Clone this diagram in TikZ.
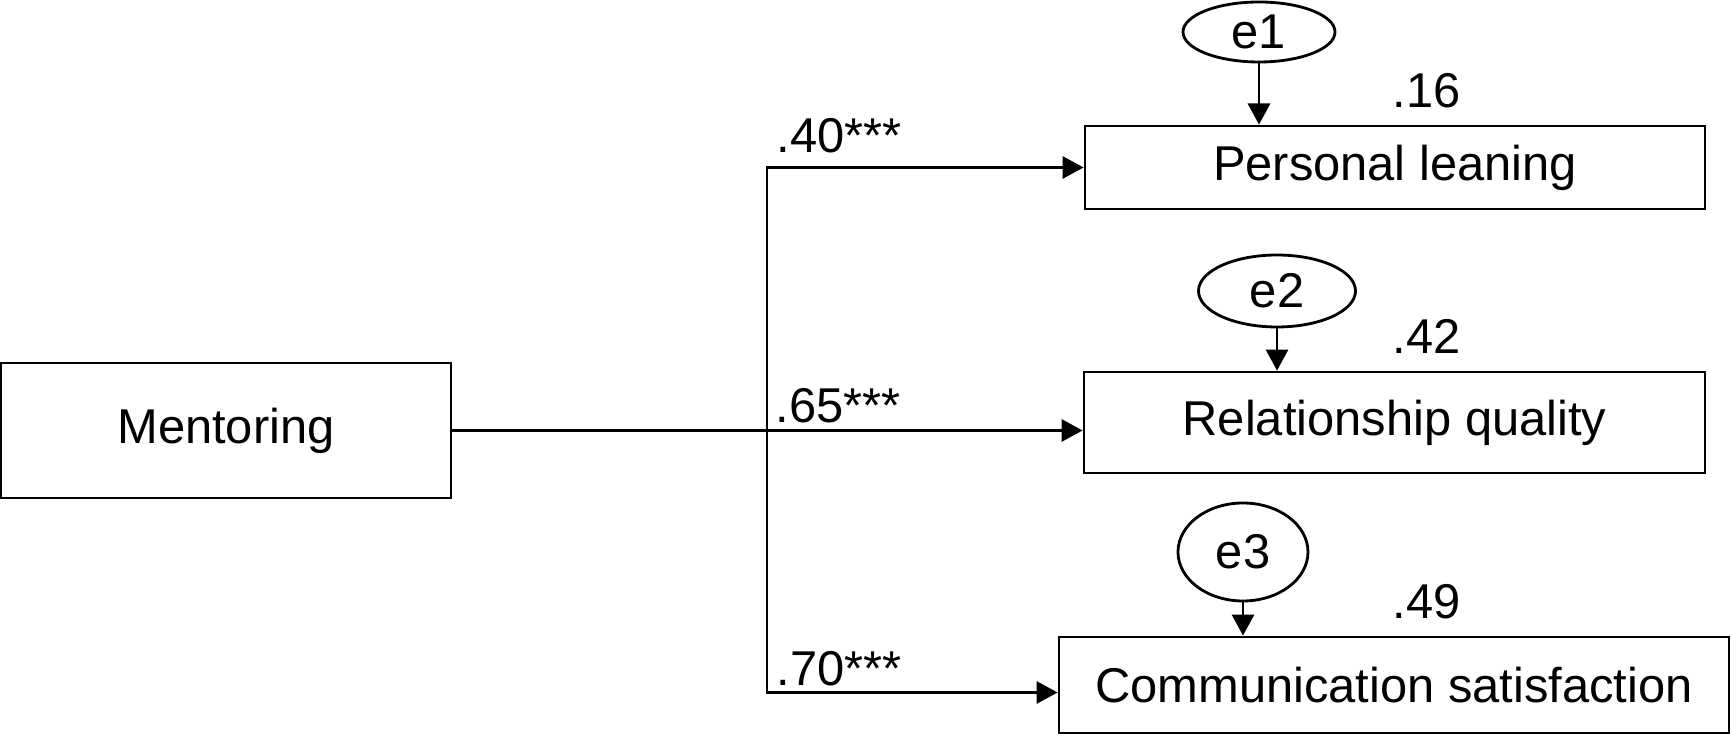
\documentclass[tikz,border=0pt]{standalone}
\usepackage{fontspec}
\setmainfont{Liberation Sans}
\usetikzlibrary{positioning,calc,arrows.meta,shapes.geometric}

\begin{document}
\begin{tikzpicture}[
    font=\fontsize{13.9}{16}\selectfont,
    box/.style={draw,line width=0.8pt,inner sep=0},
    err/.style={draw,ellipse,line width=0.8pt,inner sep=0},
    link/.style={line width=0.8pt,-{Triangle[length=6pt,width=6.3pt]}},
    coef/.style={anchor=base west,inner sep=0}
  ]
  \useasboundingbox (0,0) rectangle (17.31,7.36);

  % variables
  \node[box,minimum width=4.50cm,minimum height=1.35cm] (ment) at (2.26,3.055) {Mentoring};
  \node[box,minimum width=6.20cm,minimum height=0.83cm] (pers) at (13.95,5.685) {Personal leaning};
  \node[box,minimum width=6.21cm,minimum height=1.01cm] (rel) at (13.945,3.135) {Relationship quality};
  \node[box,minimum width=6.70cm,minimum height=0.96cm] (comm) at (13.94,0.51) {Communication satisfaction};

  % error terms
  \node[err,minimum width=1.52cm,minimum height=0.60cm] (e1) at (12.59,7.04) {e1};
  \node[err,minimum width=1.57cm,minimum height=0.72cm] (e2) at (12.77,4.45) {e2};
  \node[err,minimum width=1.30cm,minimum height=0.98cm] (e3) at (12.43,1.84) {e3};

  \draw[link] (e1.south) -- (e1.south |- pers.north);
  \draw[link] (e2.south) -- (e2.south |- rel.north);
  \draw[link] (e3.south) -- (e3.south |- comm.north);

  % paths
  \coordinate (split) at (7.67,3.05);
  \draw[link] (ment.east) -- (ment.east -| rel.west);
  \draw[link] (split) |- (pers.west);
  \draw[link] (split) |- ([yshift=-0.075cm]comm.west);

  \node[coef] (c1) at (7.76,5.83) {.40***};
  \node[coef] (c2) at (7.75,3.13) {.65***};
  \node[coef] (c3) at (7.76,0.50) {.70***};

  % squared multiple correlations
  \node[coef] (r1) at (13.92,6.28) {.16};
  \node[coef] (r2) at (13.92,3.82) {.42};
  \node[coef] (r3) at (13.92,1.17) {.49};
\end{tikzpicture}
\end{document}
